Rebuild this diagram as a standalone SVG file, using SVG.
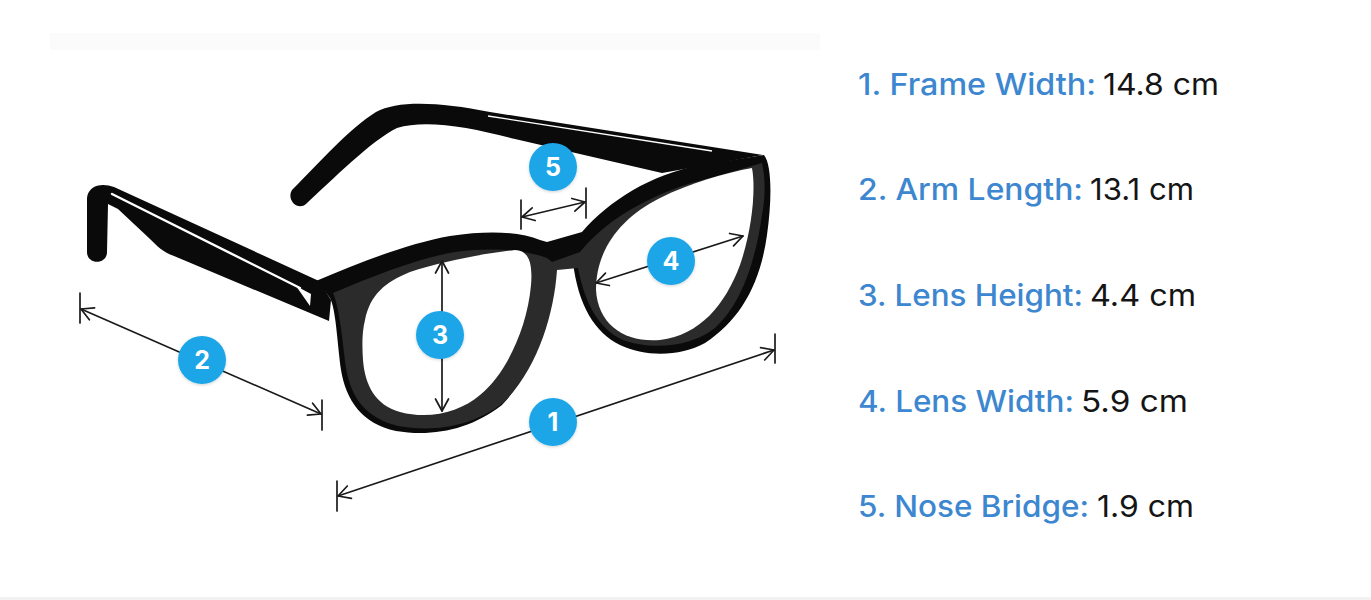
<svg xmlns="http://www.w3.org/2000/svg" width="1371" height="600" viewBox="0 0 1371 600">
  <style>
    .dim { fill: none; stroke: #1a1a1a; stroke-width: 1.7; stroke-linecap: round; }
    .tick { fill: none; stroke: #1a1a1a; stroke-width: 1.7; stroke-linecap: round; }
    .badge circle { fill: #1ba6e8; filter: url(#sh); }
    .badge text { font-family: Inter, "Open Sans", sans-serif; font-weight: 700; font-size: 25px; fill: #ffffff; text-anchor: middle; }
    .lbl { font-family: Inter, "Open Sans", sans-serif; font-size: 30px; fill: #3d87d0; font-weight: 500; }
    .val { font-family: Inter, "Open Sans", sans-serif; font-size: 30px; fill: #151515; font-weight: 400; }
    .blk { fill: #0a0a0a; }
    .face { fill: #2b2b2b; }
    .lens { fill: #ffffff; }
  </style>
  <defs>
    <marker id="chev" viewBox="-14 -8 16 16" markerWidth="16" markerHeight="16" refX="0" refY="0" orient="auto-start-reverse" markerUnits="userSpaceOnUse">
      <path d="M -12,-6.5 L 0,0 L -12,6.5" fill="none" stroke="#1a1a1a" stroke-width="1.7" stroke-linecap="round" stroke-linejoin="round"/>
    </marker>
    <filter id="sh" x="-30%" y="-30%" width="160%" height="160%">
      <feDropShadow dx="0" dy="1" stdDeviation="1.5" flood-color="#000000" flood-opacity="0.18"/>
    </filter>
  </defs>

  <rect x="0" y="0" width="1371" height="600" fill="#ffffff"/>
  <rect x="50" y="33" width="770" height="17" fill="#fbfbfb"/>
  <rect x="0" y="597" width="1371" height="3" fill="#f2f2f2"/>

  <g id="glasses">
    <g id="far-arm">
      <path class="blk" d="M 292,190 C 320,162 350,128 376,112 C 398,100 440,102 490,112 L 763,155 L 662,173 L 515,139 C 470,127 425,119 397,128 C 372,140 332,180 306,204 C 298,211 286,200 292,190 Z"/>
      <path d="M 488,116 L 712,151" stroke="#ffffff" stroke-width="1.3" fill="none"/>
    </g>
    <g id="near-arm">
      <path class="blk" d="M 87,198 C 88,186 101,182 114,187 L 319,281 L 331,300 L 329,321 L 174,256 C 163,252 157,246 150,239 L 118,209 L 108,204 L 107,252 C 107,265 87,265 87,252 Z"/>
      <path d="M 112,194 L 300,288" stroke="#ffffff" stroke-width="2.4" fill="none" stroke-linecap="round"/>
      <path d="M 296,286 L 311,294 L 310,306 Z" fill="#ffffff"/>
    </g>
    <g id="frame">
      <path class="blk" d="M 316,281 C 360,262 410,243 450,236 C 490,230 520,232 540,240 L 547,242 L 582,232 C 610,200 650,175 700,165 L 764,155 C 772,165 772,200 767,235 C 760,285 740,320 705,343 C 680,357 645,357 620,345 C 595,333 578,305 573,262 L 553,265 C 552,310 535,370 502,405 C 470,430 432,437 396,431 C 362,424 346,400 341,370 C 337,340 336,310 330,298 L 324,290 Z"/>
      <path class="face" d="M 333,293 C 375,275 420,258 455,252 C 495,247 525,250 547,258 L 552,262 L 580,252 C 610,215 660,190 710,178 L 762,163 C 766,180 765,200 762,215 C 755,265 740,305 715,328 C 690,348 650,350 623,340 C 600,330 585,305 578,268 L 557,270 C 554,315 537,370 503,403 C 470,428 432,432 398,426 C 366,418 351,398 346,368 C 342,338 340,310 333,293 Z"/>
      <path class="lens" d="M 365,320 C 370,295 385,282 410,272 C 440,262 480,254 515,250 C 528,250 533,262 531,285 C 527,330 505,375 480,395 C 460,412 430,420 400,412 C 375,405 365,385 363,360 C 362,345 362,332 365,320 Z"/>
      <path class="lens" d="M 596,290 C 596,250 620,218 660,198 C 690,183 725,173 752,168 C 756,190 752,230 740,265 C 725,305 700,335 660,340 C 625,343 598,325 596,290 Z"/>
    </g>
  </g>

  <g id="connectors">
    <line class="dim" x1="338" y1="496" x2="774" y2="350" marker-start="url(#chev)" marker-end="url(#chev)"/>
    <line class="tick" x1="337" y1="481" x2="337" y2="511"/>
    <line class="tick" x1="775" y1="334" x2="775" y2="363"/>
    <line class="dim" x1="81" y1="309" x2="321" y2="414" marker-start="url(#chev)" marker-end="url(#chev)"/>
    <line class="tick" x1="80" y1="293" x2="80" y2="323"/>
    <line class="tick" x1="322" y1="400" x2="322" y2="430"/>
    <line class="dim" x1="442" y1="261" x2="442" y2="411" marker-start="url(#chev)" marker-end="url(#chev)"/>
    <line class="dim" x1="596" y1="283" x2="743" y2="236" marker-start="url(#chev)" marker-end="url(#chev)"/>
    <line class="dim" x1="522" y1="217" x2="585" y2="202" marker-start="url(#chev)" marker-end="url(#chev)"/>
    <line class="tick" x1="521" y1="200" x2="521" y2="229"/>
    <line class="tick" x1="586" y1="188" x2="586" y2="218"/>
  </g>

  <g id="badge-1" class="badge"><circle cx="553" cy="422" r="24"/><text x="553" y="431">1</text></g>
  <g id="badge-2" class="badge"><circle cx="202" cy="360" r="24"/><text x="202" y="369">2</text></g>
  <g id="badge-3" class="badge"><circle cx="440" cy="335" r="24"/><text x="440" y="344">3</text></g>
  <g id="badge-4" class="badge"><circle cx="671" cy="261" r="24"/><text x="671" y="270">4</text></g>
  <g id="badge-5" class="badge"><circle cx="553" cy="167" r="24"/><text x="553" y="176">5</text></g>

  <g id="spec-1">
    <text class="lbl" x="858" y="95" textLength="238" lengthAdjust="spacingAndGlyphs">1. Frame Width:</text>
    <text class="val" x="1103" y="95" textLength="116" lengthAdjust="spacingAndGlyphs">14.8 cm</text>
  </g>
  <g id="spec-2">
    <text class="lbl" x="858" y="200" textLength="225" lengthAdjust="spacingAndGlyphs">2. Arm Length:</text>
    <text class="val" x="1090" y="200" textLength="104" lengthAdjust="spacingAndGlyphs">13.1 cm</text>
  </g>
  <g id="spec-3">
    <text class="lbl" x="858" y="306" textLength="225" lengthAdjust="spacingAndGlyphs">3. Lens Height:</text>
    <text class="val" x="1090" y="306" textLength="106" lengthAdjust="spacingAndGlyphs">4.4 cm</text>
  </g>
  <g id="spec-4">
    <text class="lbl" x="858" y="412" textLength="216" lengthAdjust="spacingAndGlyphs">4. Lens Width:</text>
    <text class="val" x="1081" y="412" textLength="107" lengthAdjust="spacingAndGlyphs">5.9 cm</text>
  </g>
  <g id="spec-5">
    <text class="lbl" x="858" y="517" textLength="231" lengthAdjust="spacingAndGlyphs">5. Nose Bridge:</text>
    <text class="val" x="1097" y="517" textLength="97" lengthAdjust="spacingAndGlyphs">1.9 cm</text>
  </g>
</svg>
